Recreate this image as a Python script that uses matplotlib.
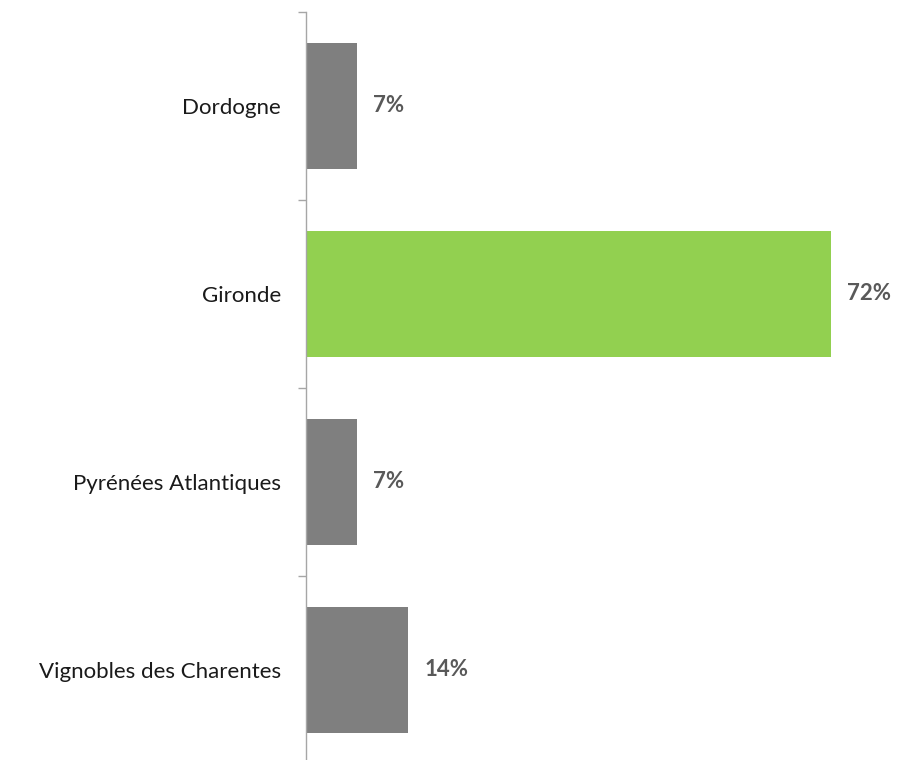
import matplotlib
matplotlib.use("Agg")
import matplotlib.pyplot as plt
import numpy as np

categories = ["Dordogne", "Gironde", "Pyrénées Atlantiques", "Vignobles des Charentes"]
values = [7, 72, 7, 14]
labels = ["7%", "72%", "7%", "14%"]
colors = ["#7f7f7f", "#92d050", "#7f7f7f", "#7f7f7f"]

plt.rcParams['font.family'] = ['Lato', 'DejaVu Sans']

W, H = 899, 760
fig = plt.figure(figsize=(W/100, H/100), dpi=100)
left, right = 306/W, 880/W
top, bottom = (H-12)/H, (H-764)/H
ax = fig.add_axes([left, bottom, right-left, top-bottom])

y = np.arange(len(categories))
ax.barh(y, values, height=0.665, color=colors)
ax.set_ylim(len(categories)-0.5, -0.5)
ax.set_xlim(0, 78.7)

ax.set_yticks(y)
ax.set_yticklabels(categories, fontsize=16, color="#1a1a1a")
ax.tick_params(axis='y', which='major', length=0, pad=18)
ax.set_yticks(np.arange(-0.5, len(categories)), minor=True)
ax.tick_params(axis='y', which='minor', length=6, color="#a6a6a6", width=1)

for i, (v, lab) in enumerate(zip(values, labels)):
    ax.text(v + 2.2, i, lab, va='center', ha='left', fontsize=16,
            fontweight='bold', color="#595959")

ax.set_xticks([])
for s in ['top', 'right', 'bottom']:
    ax.spines[s].set_visible(False)
ax.spines['left'].set_color("#a6a6a6")
ax.spines['left'].set_linewidth(1)

fig.savefig("out.png", dpi=100)
